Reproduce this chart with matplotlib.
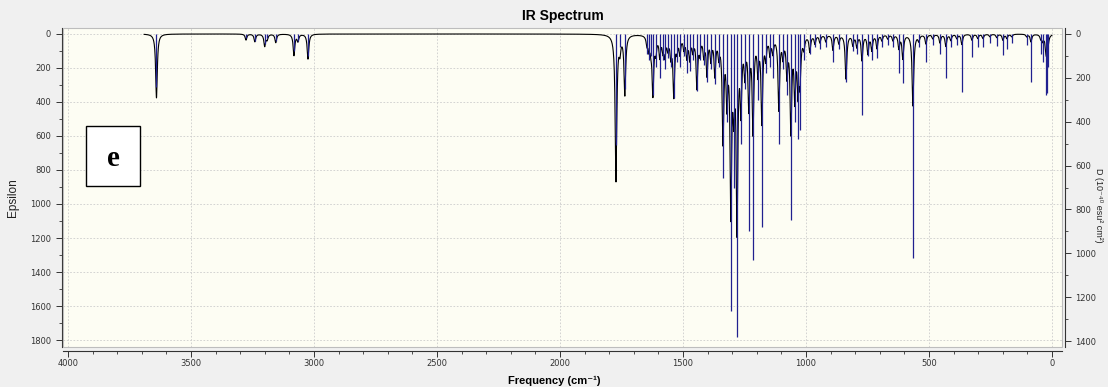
import numpy as np
import matplotlib.pyplot as plt
from matplotlib.patches import Rectangle
from matplotlib.ticker import MultipleLocator

# Harmonic frequencies (cm-1), stick intensities (km/mol) and band heights (epsilon)
freq = [3640, 3276, 3240, 3200, 3190, 3155, 3081, 3065, 3024,
        1772, 1756, 1736, 1646, 1638, 1630, 1622, 1610, 1594, 1581, 1573,
        1561, 1549, 1537, 1524, 1512, 1496, 1484, 1472, 1459, 1443,
        1431, 1415, 1402, 1386, 1370, 1354, 1337, 1321, 1305, 1293,
        1280, 1264, 1248, 1232, 1215, 1195, 1179, 1163, 1146, 1134,
        1110, 1093, 1077, 1061, 1045, 1032, 1024, 1008, 984, 963,
        943, 919, 890, 866, 837, 809, 793, 772, 748, 732,
        711, 691, 667, 646, 622, 606, 565, 541, 512, 484,
        455, 431, 411, 386, 366, 325, 301, 280, 252, 224,
        199, 183, 163, 102, 85, 45, 37, 24, 20, 16]
intensity = [240, 20, 30, 45, 20, 30, 80, 30, 100,
             506, 60, 250, 90, 120, 100, 280, 150, 200, 120, 160,
             110, 150, 290, 130, 150, 100, 180, 170, 120, 260,
             120, 140, 220, 160, 230, 150, 655, 400, 1263, 700,
             1382, 500, 250, 900, 1030, 300, 880, 180, 150, 200,
             500, 160, 280, 850, 400, 480, 440, 120, 90, 60,
             70, 60, 130, 70, 220, 80, 90, 370, 100, 120,
             110, 60, 50, 60, 180, 225, 1020, 60, 130, 50,
             90, 200, 60, 50, 264, 105, 60, 60, 40, 55,
             95, 70, 40, 50, 220, 90, 130, 280, 270, 150]
epsilon = [376, 35, 45, 70, 30, 50, 125, 40, 147,
           860, 80, 350, 50, 70, 60, 340, 90, 120, 80, 110,
           70, 110, 350, 80, 100, 70, 120, 130, 80, 300,
           90, 110, 220, 130, 220, 100, 600, 350, 1000, 350,
           1100, 400, 200, 400, 550, 200, 500, 120, 100, 90,
           430, 110, 220, 550, 350, 300, 250, 70, 95, 50,
           45, 40, 90, 50, 260, 60, 70, 150, 110, 90,
           80, 35, 25, 35, 80, 140, 420, 35, 55, 25,
           50, 70, 35, 25, 60, 35, 25, 25, 15, 20,
           35, 25, 15, 15, 45, 25, 35, 80, 70, 35]

hwhm = 4.0
grid = np.linspace(0, 3690, 7381)
f = np.asarray(freq, float)
curve = (np.asarray(epsilon, float)[:, None] * hwhm ** 2
         / ((grid[None, :] - f[:, None]) ** 2 + hwhm ** 2)).sum(axis=0)

fig = plt.figure(figsize=(11.08, 3.87), dpi=100, facecolor="#f0f0f0")
ax = fig.add_axes([63 / 1108, 1 - 347 / 387, 999 / 1108, 319 / 387])
ax.set_facecolor("#fdfdf3")
ax2 = ax.twinx()

ax.plot(grid, curve, color="black", lw=0.8, zorder=3)
ax2.vlines(freq, 0, intensity, color="#20208f", lw=0.9, zorder=2)

ax.set_xlim(4020, -41)
ax.set_ylim(1841, -35)
ax2.set_ylim(1427, -27)

ax.xaxis.set_major_locator(MultipleLocator(500))
ax.xaxis.set_minor_locator(MultipleLocator(100))
ax.yaxis.set_major_locator(MultipleLocator(200))
ax.yaxis.set_minor_locator(MultipleLocator(100))
ax2.yaxis.set_major_locator(MultipleLocator(200))
ax2.yaxis.set_minor_locator(MultipleLocator(100))

ax.grid(True, which="major", color="#cccccc", ls=(0, (2, 2)), lw=0.6)
ax.set_axisbelow(True)

tick_kw = dict(labelsize=6, colors="#333333", labelcolor="#333333", width=0.7)
ax.tick_params(axis="both", which="major", length=4, **tick_kw)
ax.tick_params(axis="x", which="major", pad=2)
ax.tick_params(axis="both", which="minor", length=2.5, colors="#333333", width=0.6)
ax2.tick_params(axis="y", which="major", length=4, **tick_kw)
ax2.tick_params(axis="y", which="minor", length=2.5, colors="#333333", width=0.6)
for lab in ax.get_xticklabels() + ax.get_yticklabels() + ax2.get_yticklabels():
    lab.set_family("Liberation Sans")

for a in (ax, ax2):
    for s in a.spines.values():
        s.set_visible(False)
ax.spines["left"].set_visible(True)
ax.spines["left"].set_position(("outward", 1))
ax.spines["bottom"].set_visible(True)
ax.spines["bottom"].set_position(("outward", 3))
ax2.spines["right"].set_visible(True)
ax2.spines["right"].set_position(("outward", 2))
for s in (ax.spines["left"], ax.spines["bottom"], ax2.spines["right"]):
    s.set_color("#333333")
    s.set_linewidth(0.8)

# light frame around the plotting area
ax.add_patch(Rectangle((0, 0), 1, 1, transform=ax.transAxes, fill=False,
                       ec="#bdbdbd", lw=0.8, clip_on=False, zorder=5))

sans = ["Liberation Sans", "DejaVu Sans"]
fig.text(563 / 1108, 1 - 16 / 387, "IR Spectrum", ha="center", va="center",
         fontsize=10, fontweight="bold", family=sans)
fig.text(554 / 1108, 1 / 387, "Frequency (cm\u207b\u00b9)", ha="center",
         va="bottom", fontsize=8, fontweight="bold", family=sans)
fig.text(13 / 1108, 1 - 198 / 387, "Epsilon", ha="center", va="center",
         rotation=90, fontsize=8.5, family=sans, color="#222222")
fig.text(1094 / 1108, 1 - 205 / 387, "D (10\u207b\u2074\u2070 esu\u00b2 cm\u00b2)",
         ha="left", va="center", rotation=270, fontsize=6.5, family=sans,
         color="#222222")

# panel tag
fig.patches.append(Rectangle((86 / 1108, 1 - 186 / 387), 54 / 1108, 60 / 387,
                             transform=fig.transFigure, fc="white", ec="black",
                             lw=1.0, zorder=10))
fig.text(113 / 1108, 1 - 158 / 387, "e", ha="center", va="center", fontsize=21,
         fontweight="bold", family="Liberation Serif", zorder=11)

fig.savefig("out.png", dpi=100, facecolor=fig.get_facecolor())
